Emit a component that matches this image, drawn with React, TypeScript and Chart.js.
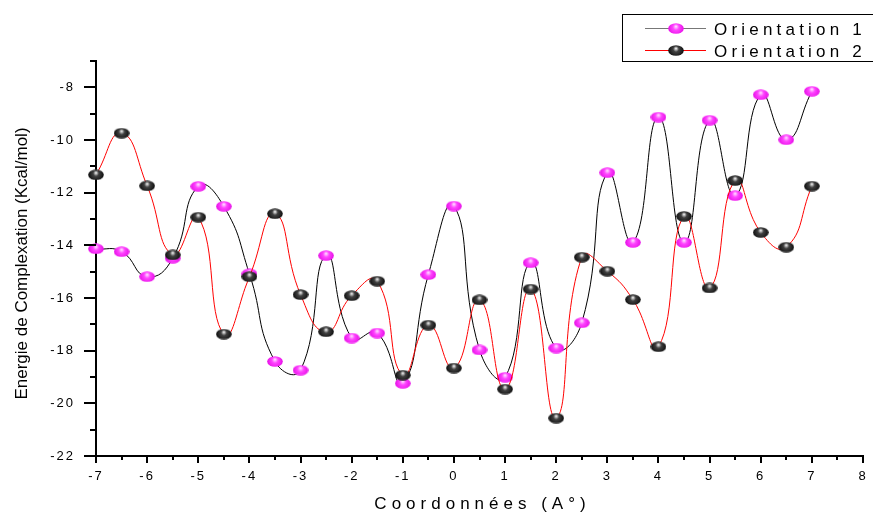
import React, { useEffect, useRef } from 'react';
import { Chart, registerables } from 'chart.js';

Chart.register(...registerables);

const xValues = [-7, -6.5, -6, -5.5, -5, -4.5, -4, -3.5, -3, -2.5, -2, -1.5, -1, -0.5, 0, 0.5, 1, 1.5, 2, 2.5, 3, 3.5, 4, 4.5, 5, 5.5, 6, 6.5, 7];
const orientation1 = [-14.13, -14.24, -15.19, -14.49, -11.76, -12.52, -15.08, -18.41, -18.74, -14.39, -17.52, -17.33, -19.24, -15.11, -12.51, -17.97, -19.01, -14.66, -17.9, -16.94, -11.24, -13.89, -9.13, -13.89, -9.25, -12.11, -8.28, -9.99, -8.15];
const orientation2 = [-11.32, -9.74, -11.74, -14.36, -12.93, -17.37, -15.19, -12.8, -15.87, -17.28, -15.91, -15.36, -18.93, -17.03, -18.66, -16.07, -19.46, -15.66, -20.56, -14.45, -14.98, -16.06, -17.85, -12.9, -15.62, -11.54, -13.51, -14.07, -11.75];
const seriesNames = ['Orientation 1', 'Orientation 2'];
const xTitle = 'Coordonnées (A°)';
const yTitle = 'Energie de Complexation (Kcal/mol)';
const xMin = -7, xMax = 8, yMin = -22, yMax = -7;

const FONT = '"Liberation Sans", Arial, sans-serif';

function makeBall(kind: 'magenta' | 'black'): HTMLCanvasElement {
  const c = document.createElement('canvas');
  c.width = 16;
  c.height = 11;
  const g = c.getContext('2d')!;
  const grad = g.createRadialGradient(8, 3.5, 0.5, 8, 5.5, 9);
  if (kind === 'magenta') {
    grad.addColorStop(0, '#ffd0ff');
    grad.addColorStop(0.3, '#ff44ff');
    grad.addColorStop(1, '#e000e0');
  } else {
    grad.addColorStop(0, '#e0e0e0');
    grad.addColorStop(0.28, '#404040');
    grad.addColorStop(1, '#000000');
  }
  g.fillStyle = grad;
  g.beginPath();
  g.ellipse(8, 5.5, 7.8, 5.3, 0, 0, Math.PI * 2);
  g.fill();
  return c;
}

export default function App() {
  const ref = useRef<HTMLCanvasElement>(null);

  useEffect(() => {
    document.body.style.margin = '0';
    const canvas = ref.current!;
    const magentaBall = makeBall('magenta');
    const blackBall = makeBall('black');

    const ticksPlugin = {
      id: 'customTicks',
      beforeDraw(chart: any) {
        chart.ctx.letterSpacing = '2px';
      },
      afterDraw(chart: any) {
        const ctx = chart.ctx as CanvasRenderingContext2D;
        const xs = chart.scales.x;
        const ys = chart.scales.y;
        const area = chart.chartArea;
        ctx.save();
        ctx.letterSpacing = '0px';
        ctx.strokeStyle = '#000';
        ctx.lineWidth = 2;
        for (let v = yMin; v <= yMax; v += 1) {
          const py = Math.round(ys.getPixelForValue(v));
          const len = v % 2 === 0 ? 12 : 6;
          ctx.beginPath();
          ctx.moveTo(area.left - len, py);
          ctx.lineTo(area.left, py);
          ctx.stroke();
        }
        for (let v = xMin; v <= xMax; v += 0.5) {
          const px = Math.round(xs.getPixelForValue(v));
          const len = Number.isInteger(v) ? 7 : 4;
          ctx.beginPath();
          ctx.moveTo(px, area.bottom);
          ctx.lineTo(px, area.bottom + len);
          ctx.stroke();
        }
        // axis titles
        ctx.fillStyle = '#000';
        ctx.font = `17px ${FONT}`;
        ctx.letterSpacing = '5px';
        ctx.textAlign = 'center';
        ctx.textBaseline = 'alphabetic';
        ctx.fillText(xTitle, (area.left + area.right) / 2 + 3, 509);
        ctx.save();
        ctx.letterSpacing = '0px';
        ctx.font = `17px ${FONT}`;
        ctx.translate(27, (area.top + area.bottom) / 2 + 5);
        ctx.rotate(-Math.PI / 2);
        ctx.fillText(yTitle, 0, 0);
        ctx.restore();
        // legend
        ctx.lineWidth = 1;
        ctx.strokeStyle = '#000';
        ctx.strokeRect(622.5, 14.5, 300, 47);
        const rows = [
          { y: 28.5, line: '#777777', ball: magentaBall, label: seriesNames[0] },
          { y: 50.5, line: '#ff0000', ball: blackBall, label: seriesNames[1] },
        ];
        ctx.font = `17px ${FONT}`;
        ctx.letterSpacing = '4.2px';
        ctx.textAlign = 'left';
        for (const r of rows) {
          ctx.strokeStyle = r.line;
          ctx.beginPath();
          ctx.moveTo(645, r.y);
          ctx.lineTo(706, r.y);
          ctx.stroke();
          ctx.drawImage(r.ball, 676 - r.ball.width / 2, r.y - r.ball.height / 2);
          ctx.fillText(r.label, 714, r.y + 6.5);
        }
        ctx.restore();
      },
    };

    const chart = new Chart(canvas, {
      type: 'line',
      data: {
        datasets: [
          {
            label: seriesNames[0],
            data: xValues.map((x, i) => ({ x, y: orientation1[i] })),
            borderColor: '#000000',
            borderWidth: 1,
            tension: 0.5,
            pointStyle: magentaBall as any,
            pointRadius: 7,
            clip: false as any,
            order: 1,
          },
          {
            label: seriesNames[1],
            data: xValues.map((x, i) => ({ x, y: orientation2[i] })),
            borderColor: '#ff0000',
            borderWidth: 1,
            tension: 0.5,
            pointStyle: blackBall as any,
            pointRadius: 7,
            clip: false as any,
            order: 0,
          },
        ],
      },
      options: {
        responsive: false,
        animation: false,
        layout: { padding: { top: 61, right: 10, left: 0, bottom: 0 } },
        plugins: { legend: { display: false }, tooltip: { enabled: false } },
        scales: {
          x: {
            type: 'linear',
            min: xMin,
            max: xMax,
            afterFit: (s: any) => { s.height = 58; },
            grid: { drawOnChartArea: false, color: 'transparent', tickLength: 7 },
            border: { display: true, color: '#000', width: 2 },
            ticks: {
              stepSize: 0.5,
              autoSkip: false,
              maxRotation: 0,
              padding: 6,
              color: '#000',
              font: { family: FONT, size: 13 },
              callback: (v: any) => (Number.isInteger(Number(v)) ? String(v) : ''),
            },
          },
          y: {
            type: 'linear',
            min: yMin,
            max: yMax,
            afterFit: (s: any) => { s.width = 96; },
            grid: { drawOnChartArea: false, color: 'transparent', tickLength: 12 },
            border: { display: true, color: '#000', width: 2 },
            ticks: {
              stepSize: 1,
              autoSkip: false,
              padding: 9,
              color: '#000',
              font: { family: FONT, size: 13 },
              callback: (v: any) => (Number(v) % 2 === 0 ? String(v) : ''),
            },
          },
        },
      },
      plugins: [ticksPlugin],
    });
    return () => chart.destroy();
  }, []);

  return (
    <div style={{ position: 'absolute', left: 0, top: 0, width: 873, height: 514 }}>
      <canvas ref={ref} width={873} height={514} />
    </div>
  );
}
